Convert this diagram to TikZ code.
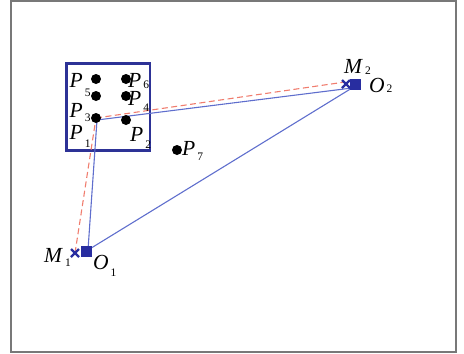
\documentclass[tikz,border=0pt]{standalone}
\usepackage{fontspec}
\setmainfont{Liberation Serif}
\definecolor{framegray}{RGB}{120,120,120}
\definecolor{boxblue}{RGB}{45,50,150}
\definecolor{lineblue}{RGB}{95,110,205}
\definecolor{dashred}{RGB}{240,125,110}
\definecolor{markblue}{RGB}{40,45,160}
\newcommand\Lb[3]{\textit{#1}\kern2pt\raisebox{-#3pt}{\fontsize{11.5}{11.5}\selectfont #2}}
\begin{document}
\begin{tikzpicture}[x=1pt,y=-1pt,
  lbl/.style={font=\fontsize{21.5}{21.5}\selectfont, inner sep=0pt, anchor=base west},
  dotnode/.style={circle,fill=black,inner sep=0pt,minimum size=10pt},
  bline/.style={draw=lineblue,line width=1.1pt},
  rline/.style={draw=dashred,line width=1.1pt,dash pattern=on 6pt off 3.5pt},
  sq/.style={rectangle,fill=markblue,inner sep=0pt,minimum width=11pt,minimum height=11pt},
  xmark/.style={draw=markblue,line width=2.2pt}]
\useasboundingbox (0,0) rectangle (464,354);
\draw[framegray,line width=1.5pt] (11,1) rectangle (456,352);
\draw[boxblue,line width=2.2pt] (66.5,63.5) rectangle (150,150.5);
% endpoints
\coordinate (bs) at (97,120);
\coordinate (rs) at (96,118);
\coordinate (bo1) at (88,250);
\coordinate (bo2) at (352,88);
\coordinate (rm1) at (75,253);
\coordinate (rm2) at (345,82);
% lines
\draw[bline] (bs) -- (bo2);
\draw[bline] (bs) -- (bo1);
\draw[bline] (bo1) -- (bo2);
\draw[rline] (rm1) -- (rs);
\draw[rline] (rs) -- (rm2);
% dots
\node[dotnode] (d5) at (96,79) {};
\node[dotnode] (d6) at (126,79) {};
\node[dotnode] (d3a) at (96,96) {};
\node[dotnode] (d4) at (126,96) {};
\node[dotnode] (d3) at (96,118) {};
\node[dotnode] (d2) at (126,120) {};
\node[dotnode] (d7) at (177,150) {};
% markers
\node[sq] (o1) at (86.5,251.5) {};
\node[sq] (o2) at (355,84) {};
\draw[xmark] (71,249) -- (79,257) (71,257) -- (79,249);
\draw[xmark] (342,80) -- (350,88) (342,88) -- (350,80);
% labels
\node[lbl] (l5) at (69.5,87) {\Lb{P}{5}{9}};
\node[lbl] (l3) at (69.5,117) {\Lb{P}{3}{4}};
\node[lbl] (l1) at (69.5,139) {\Lb{P}{1}{8}};
\node[lbl] (l6) at (128,87) {\Lb{P}{6}{1.5}};
\node[lbl] (l4) at (128,105) {\Lb{P}{4}{6}};
\node[lbl] (l2) at (130,141) {\Lb{P}{2}{7}};
\node[lbl] (l7) at (182,155) {\Lb{P}{7}{5}};
\node[lbl] (m2) at (344,73) {\Lb{M}{2}{1}};
\node[lbl] (lo2) at (369,92) {\Lb{O}{2}{0}};
\node[lbl] (m1) at (44,262) {\Lb{M}{1}{4}};
\node[lbl] (lo1) at (93,269) {\Lb{O}{1}{7}};
\end{tikzpicture}
\end{document}
